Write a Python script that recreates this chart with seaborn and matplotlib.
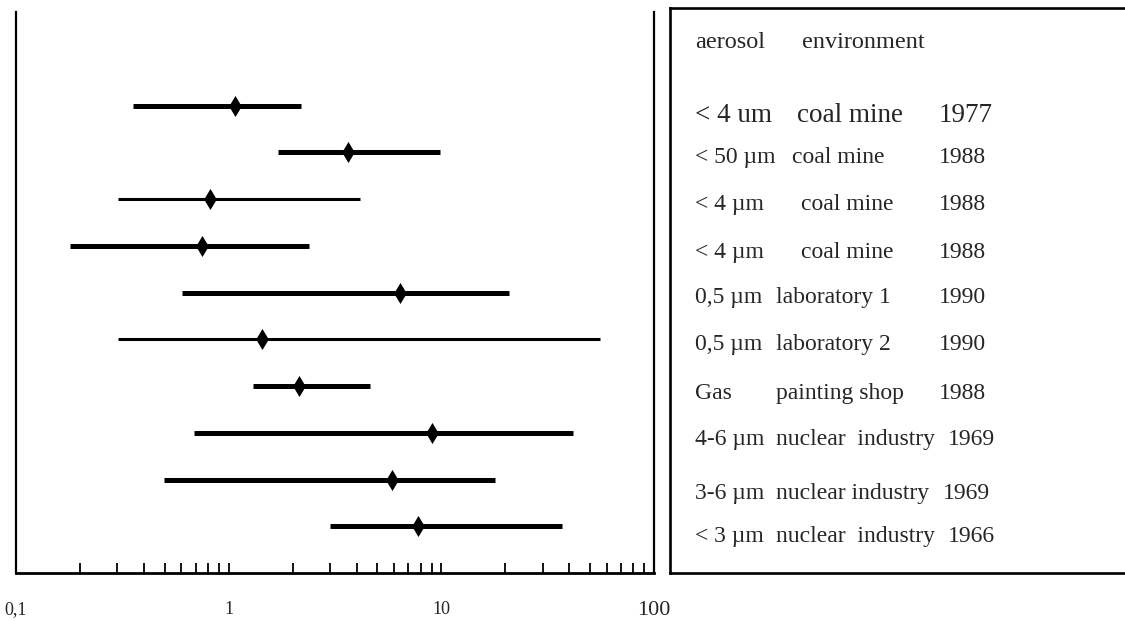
import numpy as np
import pandas as pd
import seaborn as sns
import matplotlib.pyplot as plt

# ---- data ----
aerosol = ["< 4 um", "< 50 µm", "< 4 µm", "< 4 µm", "0,5 µm",
           "0,5 µm", "Gas", "4-6 µm", "3-6 µm", "< 3 µm"]
environment = ["coal mine", "coal mine", "coal mine", "coal mine", "laboratory 1",
               "laboratory 2", "painting shop", "nuclear  industry",
               "nuclear industry", "nuclear  industry"]
year = ["1977", "1988", "1988", "1988", "1990", "1990", "1988", "1969", "1969", "1966"]

low = [0.355, 1.71, 0.302, 0.179, 0.603, 0.302, 1.30, 0.687, 0.496, 2.99]
mid = [1.07, 3.64, 0.817, 0.749, 6.39, 1.43, 2.14, 9.02, 5.86, 7.76]
high = [2.19, 9.85, 4.14, 2.38, 20.8, 55.7, 4.61, 41.6, 17.9, 36.9]

tick_vals = [0.1, 1, 10, 100]
tick_labels = ["0,1", "1", "10", "100"]

# line thickness per row (thin rows in the original)
bar_w = [3.6, 3.6, 2.2, 3.6, 3.6, 2.2, 3.6, 3.6, 3.6, 3.6]

df = pd.DataFrame({"row": np.arange(len(mid)), "low": low, "mid": mid, "high": high})

sns.set_theme(style="white")
plt.rcParams["font.family"] = ["Liberation Serif", "DejaVu Serif"]

W, H = 1125, 621
fig = plt.figure(figsize=(W / 100, H / 100), dpi=100)

# main plot
ax = fig.add_axes([16 / W, 1 - 573 / H, (654 - 16) / W, (573 - 12) / H])
ax.hlines(df["row"], df["low"], df["high"], colors="black", linewidths=bar_w,
          capstyle="butt")
sns.scatterplot(data=df, x="mid", y="row", marker="d", s=115, color="black",
                edgecolor="black", linewidth=0, ax=ax, zorder=3)
ax.set_xscale("log")
ax.set_xlim(0.1, 100)
ax.set_ylim(10, -2)
ax.set_xlabel("")
ax.set_ylabel("")
ax.set_yticks([])
ax.set_xticks(tick_vals)
ax.set_xticklabels(tick_labels)
minor = [m * d for d in [0.1, 1, 10] for m in range(2, 10)]
ax.set_xticks(minor, minor=True)
ax.tick_params(axis="x", which="both", direction="in", length=7, width=1.3,
               color="black", pad=20, labelsize=13, bottom=True)
ax.get_xticklabels()[-1].set_fontsize(16)
for s in ["left", "right", "bottom"]:
    ax.spines[s].set_visible(True)
    ax.spines[s].set_color("black")
ax.spines["left"].set_linewidth(1.6)
ax.spines["right"].set_linewidth(1.6)
ax.spines["bottom"].set_linewidth(2.0)
ax.spines["top"].set_visible(False)

# legend table box (units inside = pixels from the box corner)
bw = W - 670 + 12
bx = fig.add_axes([670 / W, 1 - 573 / H, bw / W, (573 - 8) / H])
bx.set_xlim(0, bw)
bx.set_ylim(565, 0)
bx.set_xticks([])
bx.set_yticks([])
for s in ["left", "top", "bottom"]:
    bx.spines[s].set_visible(True)
    bx.spines[s].set_color("black")
    bx.spines[s].set_linewidth(1.9)
bx.spines["right"].set_visible(False)

bx.text(25, 40, "aerosol", fontsize=17.5, va="baseline")
bx.text(132, 40, "environment", fontsize=17.5, va="baseline")

row_base = [114, 155, 202, 250, 295, 342, 391, 437, 491, 534]
env_x = [127, 122, 131, 131, 106, 106, 106, 106, 106, 106]
year_x = [269, 269, 269, 269, 269, 269, 269, 278, 273, 278]
for i in range(len(aerosol)):
    fs = 19.5 if i == 0 else 17
    bx.text(25, row_base[i], aerosol[i], fontsize=fs, va="baseline")
    bx.text(env_x[i], row_base[i], environment[i], fontsize=fs, va="baseline")
    bx.text(year_x[i], row_base[i], year[i], fontsize=fs, va="baseline")

fig.savefig("out.png", dpi=100)
